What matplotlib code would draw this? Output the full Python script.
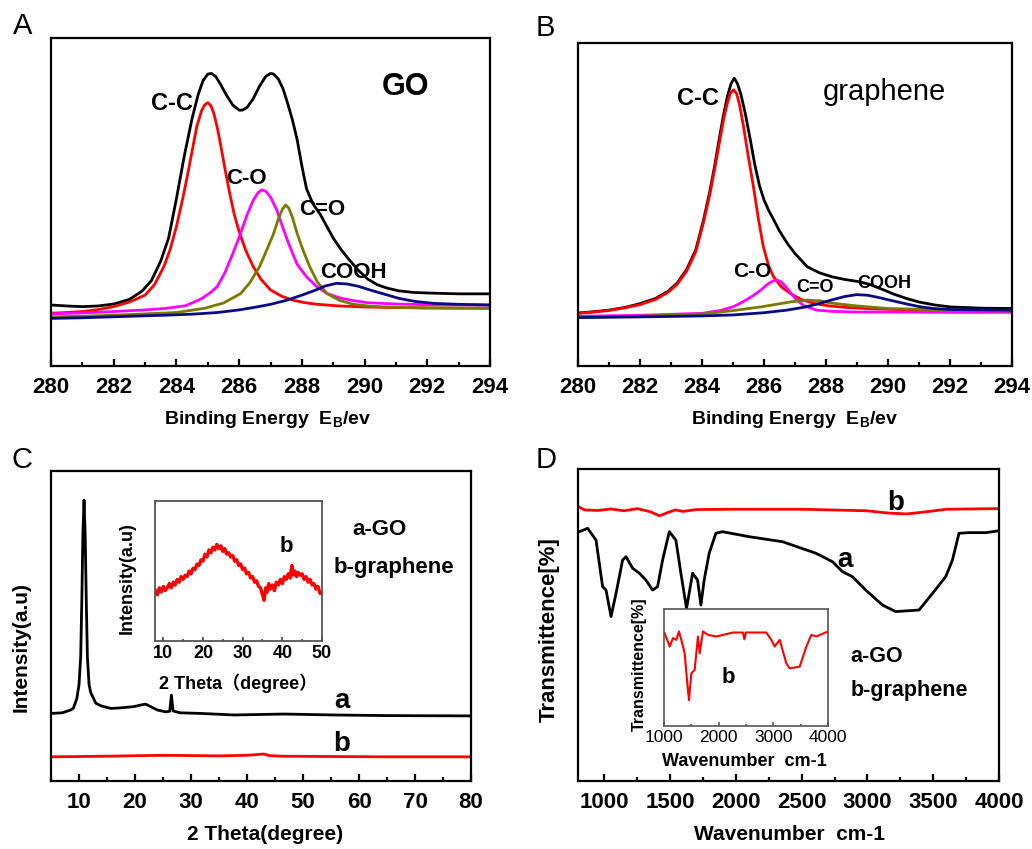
import matplotlib
matplotlib.use('Agg')
import matplotlib.pyplot as plt
from matplotlib.ticker import MultipleLocator

plt.rcParams['font.family'] = ['Liberation Sans', 'Noto Sans CJK SC', 'DejaVu Sans']
plt.rcParams['font.weight'] = 'bold'
plt.rcParams['mathtext.fontset'] = 'custom'
plt.rcParams['mathtext.rm'] = 'Liberation Sans:bold'
plt.rcParams['mathtext.bf'] = 'Liberation Sans:bold'

# ---- A: XPS C1s of GO (intensity in % of axis height) ----
a_sum_e = [280, 280.5, 281, 281.5, 282, 282.5, 282.9, 283.2, 283.5, 283.75, 284.0, 284.25, 284.5,
           284.7, 284.85, 285.0, 285.12, 285.25, 285.4, 285.6, 285.8, 286.0, 286.1, 286.25, 286.45,
           286.65, 286.85, 287.0, 287.1, 287.25, 287.4, 287.55, 287.7, 287.85, 288.0, 288.15,
           288.35, 288.6, 288.8, 289.0, 289.25, 289.5, 289.8, 290.1, 290.4, 290.7, 291.1, 291.6,
           292.2, 293, 294]
a_sum = [18.6, 18.3, 18.1, 18.3, 18.9, 20.3, 22.8, 26, 32, 39, 51, 64, 75.5,
         83, 87, 89, 89.2, 88.3, 86, 82.5, 79.5, 78, 78, 78.8, 81.5,
         85.3, 88.3, 89.2, 89, 87.5, 84.5, 80, 75, 69, 61, 54,
         49.5, 46, 42.5, 39, 35.5, 32.5, 29.2, 26.5, 24.8, 23.8, 22.9, 22.4,
         22.2, 22.0, 22.0]
a_cc_e = [280, 280.5, 281, 281.5, 282, 282.5, 283, 283.3, 283.6, 283.8, 284.0, 284.2, 284.35, 284.5,
          284.65, 284.8, 284.9, 285.0, 285.1, 285.2, 285.3, 285.4, 285.55, 285.7, 285.85, 286.0,
          286.2, 286.45, 286.7, 287.0, 287.35, 287.7, 288.1, 288.5, 289.2, 290, 291, 292, 294]
a_cc = [16.1, 16.3, 16.6, 17.2, 18.1, 19.5, 21.6, 24.8, 30.3, 35.5, 42.5, 51, 58, 65.5,
        73, 77.8, 79.6, 80.3, 79.4, 76.8, 72.8, 68, 60, 52.6, 46, 41,
        35.5, 30.3, 26.4, 23.2, 21.3, 20.1, 19.3, 18.8, 18.3, 18.0, 17.8, 17.7, 17.6]
a_co_e = [280, 281, 282, 283, 283.7, 284.3, 284.8, 285.1, 285.3, 285.55, 285.8, 286.05, 286.25,
          286.45, 286.6, 286.72, 286.85, 287.0, 287.2, 287.4, 287.6, 287.85, 288.15, 288.45,
          288.8, 289.2, 289.6, 290.1, 291, 292, 294]
a_co = [15.9, 16.2, 16.6, 17.1, 17.6, 18.4, 20.5, 22.5, 24.2, 28.5, 34.3, 40.5, 46,
        50.5, 52.8, 53.7, 53.3, 51.5, 47.6, 42, 36.8, 31, 27.2, 24.4,
        22.1, 20.8, 20.0, 19.3, 18.9, 18.7, 18.6]
a_c2o_e = [280, 281, 282, 283, 284, 284.9, 285.5, 286.05, 286.35, 286.65, 286.9, 287.1, 287.25,
           287.38, 287.48, 287.58, 287.7, 287.85, 288.05, 288.25, 288.5, 288.8, 289.2, 289.65,
           290.2, 291, 292, 294]
a_c2o = [15.0, 15.2, 15.5, 15.9, 16.3, 17.6, 19.2, 22.1, 25.5, 30.3, 35.8, 40.4, 44.8,
         47.8, 49.1, 48.2, 45.3, 40.4, 35, 30.3, 25.5, 22.1, 20.0, 18.8,
         18.2, 17.9, 17.7, 17.6]
a_cooh_e = [280, 281, 282, 283, 283.7, 284.5, 285.3, 286, 286.5, 287, 287.5, 288.0, 288.4, 288.75,
            289.1, 289.45, 289.8, 290.2, 290.6, 291.1, 291.6, 292.2, 293, 294]
a_cooh = [14.5, 14.7, 15.0, 15.3, 15.5, 15.8, 16.3, 17.1, 17.9, 18.8, 20.0, 21.6, 23.0, 24.4,
          25.2, 25.0, 24.3, 23.1, 22.0, 20.6, 19.7, 19.1, 18.8, 18.6]

# ---- B: XPS C1s of graphene ----
b_sum_e = [280, 280.5, 281, 281.5, 282, 282.5, 282.9, 283.2, 283.5, 283.8, 284.05, 284.25, 284.4,
           284.55, 284.7, 284.82, 284.94, 285.04, 285.14, 285.25, 285.4, 285.55, 285.7, 285.85,
           286.0, 286.15, 286.3, 286.5, 286.75, 287.0, 287.4, 287.8, 288.2, 288.6, 289.0, 289.4,
           289.8, 290.2, 290.6, 291.0, 291.5, 292, 293, 294]
b_sum = [16.4, 16.8, 17.3, 18.1, 19.3, 20.9, 23.1, 25.7, 29.8, 36.0, 45.2, 54.0, 61.5,
         70, 78.0, 83.5, 87.5, 89.1, 87.5, 84.3, 78.0, 70.5, 62.5, 56,
         51.4, 48.2, 45.5, 41.8, 38, 34.8, 30.7, 28.8, 27.6, 26.8, 26.2, 25.3,
         23.8, 22.2, 20.9, 19.8, 18.9, 18.3, 17.9, 17.8]
b_cc_e = [280, 280.5, 281, 281.5, 282, 282.5, 282.9, 283.2, 283.5, 283.8, 284.05, 284.25, 284.4,
          284.55, 284.7, 284.82, 284.92, 285.02, 285.12, 285.22, 285.34, 285.5, 285.66, 285.82,
          285.98, 286.15, 286.31, 286.55, 286.84, 287.2, 287.6, 288.1, 288.7, 289.5, 290.5, 292, 294]
b_cc = [16.3, 16.7, 17.2, 18.0, 19.0, 20.6, 22.8, 25.3, 29.3, 35.4, 44.5, 53.0, 60.5,
        68.5, 76.5, 81.5, 84.5, 85.5, 84.3, 80.5, 74.1, 64.5, 55.5, 45.5,
        36.9, 31.0, 27.6, 24.6, 22.5, 20.6, 19.4, 18.6, 18.1, 17.7, 17.4, 17.2, 17.1]
b_co_e = [280, 282, 284, 284.6, 285.0, 285.23, 285.45, 285.65, 285.9, 286.1, 286.28, 286.42, 286.55,
          286.7, 286.88, 287.06, 287.3, 287.7, 288.2, 289, 290, 292, 294]
b_co = [15.4, 15.7, 16.3, 17.2, 18.3, 19.4, 20.6, 21.8, 23.5, 25.2, 26.3, 26.6, 26.1,
        24.6, 22.4, 20.4, 18.6, 17.3, 16.9, 16.7, 16.7, 16.6, 16.6]
b_c2o_e = [280, 281, 282, 283, 284, 284.6, 285.2, 285.9, 286.4, 286.9, 287.4, 287.8, 288.1, 288.5,
           289.0, 289.5, 290.0, 290.8, 291.5, 292.5, 294]
b_c2o = [15.0, 15.2, 15.4, 15.7, 16.1, 16.7, 17.4, 18.3, 19.1, 19.9, 20.4, 20.2, 19.6, 19.1,
         18.6, 18.2, 17.8, 17.6, 17.4, 17.2, 17.0]
b_cooh_e = [280, 282, 284, 285, 286, 286.74, 287.3, 287.81, 288.2, 288.6, 288.99, 289.35, 289.7,
            290.1, 290.6, 291.0, 291.46, 292.0, 292.8, 294]
b_cooh = [15.0, 15.2, 15.5, 15.8, 16.5, 17.3, 18.2, 19.4, 20.5, 21.5, 22.1, 21.9, 21.2,
          20.3, 19.2, 18.4, 17.8, 17.5, 17.4, 17.3]

# ---- C: XRD ----
c_go_t = [5.1, 7.0, 8.5, 9.0, 9.6, 10.0, 10.3, 10.5, 10.7, 10.9, 11.1, 11.3, 11.5, 11.8, 12.1, 13.0,
          14.0, 15.7, 17.5, 19.8, 21.0, 21.9, 23.0, 24.0, 25.5, 26.2, 26.5, 26.8, 28.0, 31.7,
          37.7, 46.6, 55.5, 65, 80]
c_go = [21.8, 22.0, 22.9, 23.5, 26.5, 31, 40, 58, 80, 90.6, 80, 58, 40, 31, 28.5, 25.1,
        24.2, 23.4, 23.6, 24.0, 24.5, 24.8, 23.8, 22.9, 22.3, 22.5, 27.7, 22.6, 22.0, 21.8,
        21.3, 21.6, 21.3, 21.1, 21.0]
c_gr_t = [5, 15, 25, 35, 40, 43, 44, 46, 55, 65, 80]
c_gr = [7.8, 8.0, 8.3, 8.1, 8.3, 8.7, 8.2, 8.0, 7.9, 7.8, 7.8]
ci_t = [8.0, 8.5, 9.0, 9.5, 10.0, 10.5, 11.0, 11.5, 12.0, 12.5, 13.0, 13.5, 14.0, 14.5, 15.0, 15.5,
        16.0, 16.5, 17.0, 17.5, 18.0, 18.5, 19.0, 19.5, 20.0, 20.5, 21.0, 21.5, 22.0, 22.5, 23.0,
        23.5, 24.0, 24.5, 25.0, 25.5, 26.0, 26.5, 27.0, 27.5, 28.0, 28.5, 29.0, 29.5, 30.0, 30.5,
        31.0, 31.5, 32.0, 32.5, 33.0, 33.5, 34.0, 34.5, 35.0, 35.4, 35.8, 36.2, 36.6, 37.0, 37.5,
        38.0, 38.5, 39.0, 39.5, 40.0, 40.5, 41.0, 41.5, 42.0, 42.4, 42.8, 43.2, 43.6, 44.0, 44.5,
        45.0, 45.5, 46.0, 46.5, 47.0, 47.5, 48.0, 48.5, 49.0, 49.5, 50.0]
ci_v = [36, 33, 38, 35, 39, 36, 38, 41, 38, 42, 40, 44, 42, 46, 44, 47,
        46, 50, 48, 52, 51, 55, 54, 58, 57, 62, 60, 65, 63, 67, 65,
        69, 66, 68, 64, 66, 62, 63, 60, 61, 57, 58, 54, 55, 51, 52,
        48, 49, 45, 46, 42, 43, 39, 38, 33, 29, 38, 35, 41, 37, 40,
        36, 42, 40, 44, 41, 46, 44, 48, 45, 54, 47, 50, 46, 49, 47,
        48, 44, 46, 42, 44, 40, 41, 37, 39, 34, 34]

# ---- D: FTIR ----
d_go_w = [810, 873, 937, 987, 1013, 1051, 1089, 1139, 1165, 1215, 1266, 1316, 1367, 1405, 1443,
          1494, 1544, 1582, 1625, 1671, 1709, 1734, 1759, 1797, 1848, 1899, 2101, 2354, 2608,
          2734, 2810, 2886, 2987, 3114, 3215, 3392, 3494, 3595, 3646, 3696, 3772, 3899, 4000]
d_go = [79.9, 81.0, 77.2, 62.3, 61.2, 52.7, 60.1, 70.8, 71.9, 68.2, 66.6, 64.4, 61.2, 62.3, 70.8,
        79.9, 77.2, 66.6, 55.3, 66.6, 64.4, 56.4, 64.4, 73.0, 79.4, 79.9, 78.3, 76.7, 73.0,
        70.3, 67.1, 65.5, 61.2, 56.4, 54.3, 54.8, 60.1, 65.5, 70.8, 79.4, 79.6, 79.6, 80.2]
d_gr_w = [800, 850, 950, 1050, 1150, 1250, 1350, 1420, 1480, 1540, 1600, 1700, 2000, 2500, 3000,
          3150, 3300, 3450, 3600, 4000]
d_gr = [88.0, 86.9, 86.7, 87.2, 86.6, 87.3, 86.3, 85.0, 86.0, 86.9, 86.4, 87.0, 87.1, 87.1, 86.6,
        85.9, 85.6, 86.3, 87.1, 87.3]
di_w = [1012, 1104, 1165, 1226, 1274, 1317, 1378, 1421, 1457, 1500, 1561, 1622, 1653, 1713, 1805,
        1957, 2262, 2445, 2470, 2500, 2872, 2964, 3024, 3116, 3238, 3299, 3482, 3604, 3696, 3787, 4000]
di_v = [79.4, 67.9, 75.1, 73.6, 80.8, 73.6, 62.2, 39.3, 22.1, 45.0, 47.9, 76.5, 62.2, 80.8, 77.9,
        76.5, 79.9, 79.9, 74.0, 79.9, 79.9, 73.6, 67.9, 73.6, 53.6, 49.3, 50.7, 67.9, 77.9, 76.5, 80.8]

W, H = 1032, 849
fig = plt.figure(figsize=(W / 100, H / 100), dpi=100)


def box(l, t, r, b):
    return [l / W, 1 - b / H, (r - l) / W, (b - t) / H]


def ftext(x, y, s, **kw):
    fig.text(x / W, 1 - y / H, s, ha='center', va='center', **kw)


def style(ax, xlim, major, minor, size=16, lw=1.6, pad=8, tl=5, color='black'):
    ax.set_xlim(*xlim)
    ax.set_ylim(0, 100)
    ax.set_yticks([])
    ax.xaxis.set_major_locator(MultipleLocator(major))
    ax.xaxis.set_minor_locator(MultipleLocator(minor))
    ax.tick_params(axis='x', which='both', direction='in', top=False, labelsize=size,
                   width=lw, pad=pad, color=color)
    ax.tick_params(axis='x', which='major', length=tl)
    ax.tick_params(axis='x', which='minor', length=tl * 0.6)
    for s in ax.spines.values():
        s.set_linewidth(lw)
        s.set_edgecolor(color)


lw = 2.0
navy, olive = '#0a0a85', '#7a7a00'

# A
axA = fig.add_axes(box(51, 38, 490, 366))
axA.plot(a_sum_e, a_sum, color='black', lw=lw)
axA.plot(a_cc_e, a_cc, color='red', lw=lw)
axA.plot(a_co_e, a_co, color='magenta', lw=lw)
axA.plot(a_c2o_e, a_c2o, color=olive, lw=lw)
axA.plot(a_cooh_e, a_cooh, color=navy, lw=lw)
style(axA, (280, 294), 2, 1)
for x, y, s, fs in [(283.86, 78.0, 'C-C', 17), (286.22, 55.5, 'C-O', 16),
                    (288.64, 46.0, 'C=O', 16), (289.66, 26.8, 'COOH', 16), (291.32, 82.6, 'GO', 22)]:
    axA.text(x, y, s, ha='center', va='baseline', fontsize=fs)

# B
axB = fig.add_axes(box(578, 43, 1012, 366))
axB.plot(b_sum_e, b_sum, color='black', lw=lw)
axB.plot(b_cc_e, b_cc, color='red', lw=lw)
axB.plot(b_co_e, b_co, color='magenta', lw=lw)
axB.plot(b_c2o_e, b_c2o, color=olive, lw=lw)
axB.plot(b_cooh_e, b_cooh, color=navy, lw=lw)
style(axB, (280, 294), 2, 1)
for x, y, s, fs in [(283.88, 80.9, 'C-C', 17), (285.62, 27.5, 'C-O', 15),
                    (287.65, 22.9, 'C=O', 13), (289.87, 24.1, 'COOH', 13)]:
    axB.text(x, y, s, ha='center', va='baseline', fontsize=fs)
axB.text(289.87, 82.4, 'graphene', ha='center', va='baseline', fontsize=21, fontweight='normal')

# C
axC = fig.add_axes(box(51, 471, 471, 781))
axC.plot(c_go_t, c_go, color='black', lw=lw)
axC.plot(c_gr_t, c_gr, color='red', lw=lw)
style(axC, (5, 80), 10, 5)
axC.text(56.9, 23.5, 'a', ha='center', va='baseline', fontsize=20)
axC.text(56.9, 9.7, 'b', ha='center', va='baseline', fontsize=20)
axC.text(63.6, 79.4, 'a-GO', ha='center', va='baseline', fontsize=16)
axC.text(66.2, 67.1, 'b-graphene', ha='center', va='baseline', fontsize=16)

axCi = fig.add_axes(box(155, 501, 322, 641))
axCi.plot(ci_t, ci_v, color='red', lw=2.4)
style(axCi, (7.9, 50), 10, 5, size=13, lw=1.3, pad=3, tl=3, color='#555555')
axCi.text(41.0, 63.5, 'b', ha='center', va='baseline', fontsize=16)

# D
axD = fig.add_axes(box(578, 469, 999, 781))
axD.plot(d_go_w, d_go, color='black', lw=lw)
axD.plot(d_gr_w, d_gr, color='red', lw=lw)
style(axD, (800, 4000), 500, 250)
axD.text(3215, 86.9, 'b', ha='center', va='baseline', fontsize=20)
axD.text(2828, 68.7, 'a', ha='center', va='baseline', fontsize=20)
axD.text(3069, 38.2, 'a-GO', ha='center', va='baseline', fontsize=15.5)
axD.text(3317, 27.2, 'b-graphene', ha='center', va='baseline', fontsize=15.5)

axDi = fig.add_axes(box(664, 609, 828, 726))
axDi.plot(di_w, di_v, color='red', lw=1.5)
style(axDi, (1000, 4000), 1000, 500, size=12.5, lw=1.2, pad=3, tl=3, color='#555555')
axDi.text(2185, 36.7, 'b', ha='center', va='baseline', fontsize=16)

# panel letters and axis titles
for x, y, s in [(23, 26, 'A'), (545, 28, 'B'), (22, 460, 'C'), (546, 460, 'D')]:
    ftext(x, y, s, fontsize=21, fontweight='normal')
ftext(268, 420, r'Binding Energy  E$_\mathbf{B}$/ev', fontsize=14)
ftext(795, 420, r'Binding Energy  E$_\mathbf{B}$/ev', fontsize=14)
ftext(265, 834, '2 Theta(degree)', fontsize=15)
ftext(21, 647, 'Intensity(a.u)', fontsize=15, rotation=90)
ftext(238, 683, '2 Theta\uff08degree\uff09', fontsize=13)
ftext(127, 578, 'Intensity(a.u)', fontsize=13, rotation=90)
ftext(790, 835, 'Wavenumber  cm-1', fontsize=15)
ftext(549, 630, 'Transmittence[%]', fontsize=16, rotation=90)
ftext(744, 762, 'Wavenumber  cm-1', fontsize=13)
ftext(639, 664, 'Transmittence[%]', fontsize=11.5, rotation=90)

# inset D tick labels are in regular weight
fig.canvas.draw()
for t in axDi.xaxis.get_major_ticks():
    t.label1.set_fontweight('normal')

fig.savefig('out.png', dpi=100)
